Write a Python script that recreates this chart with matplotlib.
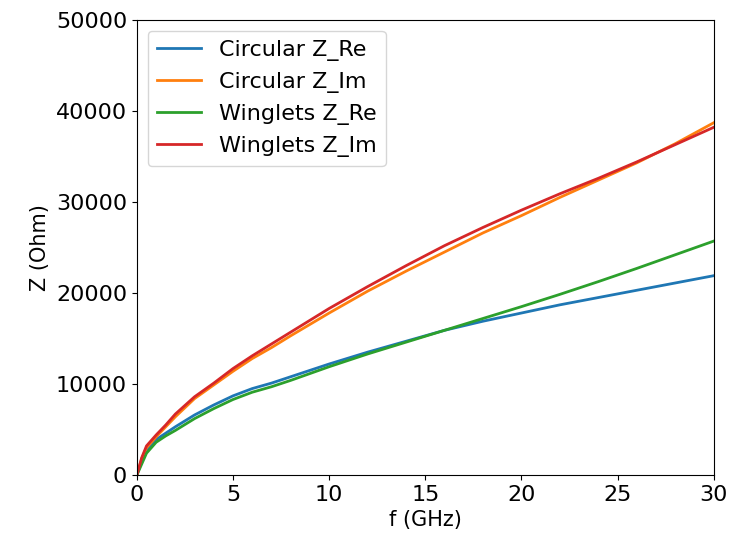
import numpy as np
import matplotlib
matplotlib.use('Agg')
from matplotlib import pyplot as plt

# frequency points (GHz) and impedance values (Ohm)
f = [0, 0.25, 0.5, 1, 1.5, 2, 3, 4, 5, 6, 7, 8, 10, 12, 14, 16, 18, 20, 22, 24, 26, 28, 30]
circ_re = [0, 1500, 2700, 3900, 4600, 5300, 6600, 7700, 8700, 9500, 10100, 10800, 12200,
           13500, 14700, 15900, 16900, 17800, 18700, 19500, 20300, 21100, 21900]
circ_im = [0, 1800, 3000, 4200, 5300, 6400, 8400, 9900, 11400, 12800, 14000, 15300, 17800,
           20200, 22400, 24500, 26600, 28500, 30500, 32400, 34300, 36400, 38700]
wing_re = [0, 1200, 2400, 3600, 4300, 4900, 6200, 7300, 8300, 9100, 9700, 10400, 11900,
           13300, 14600, 15900, 17200, 18500, 19850, 21250, 22700, 24200, 25700]
wing_im = [0, 1900, 3200, 4400, 5500, 6700, 8600, 10100, 11700, 13100, 14400, 15700, 18300,
           20700, 23000, 25200, 27200, 29100, 30900, 32600, 34400, 36300, 38200]

fig = plt.figure(figsize=(7.32, 5.38), dpi=100)
ax = fig.add_axes([0.187, 0.117, 0.788, 0.846])

ax.plot(f, circ_re, label='Circular Z_Re', lw=2)
ax.plot(f, circ_im, label='Circular Z_Im', lw=2)
ax.plot(f, wing_re, label='Winglets Z_Re', lw=2)
ax.plot(f, wing_im, label='Winglets Z_Im', lw=2)

ax.set_xlim(0, 30)
ax.set_ylim(0, 50000)
ax.set_xlabel('f (GHz)', fontsize=15)
ax.set_ylabel('Z (Ohm)', fontsize=15)
ax.tick_params(labelsize=16)
ax.legend(loc='upper left', fontsize=16)

fig.savefig('out.png')
